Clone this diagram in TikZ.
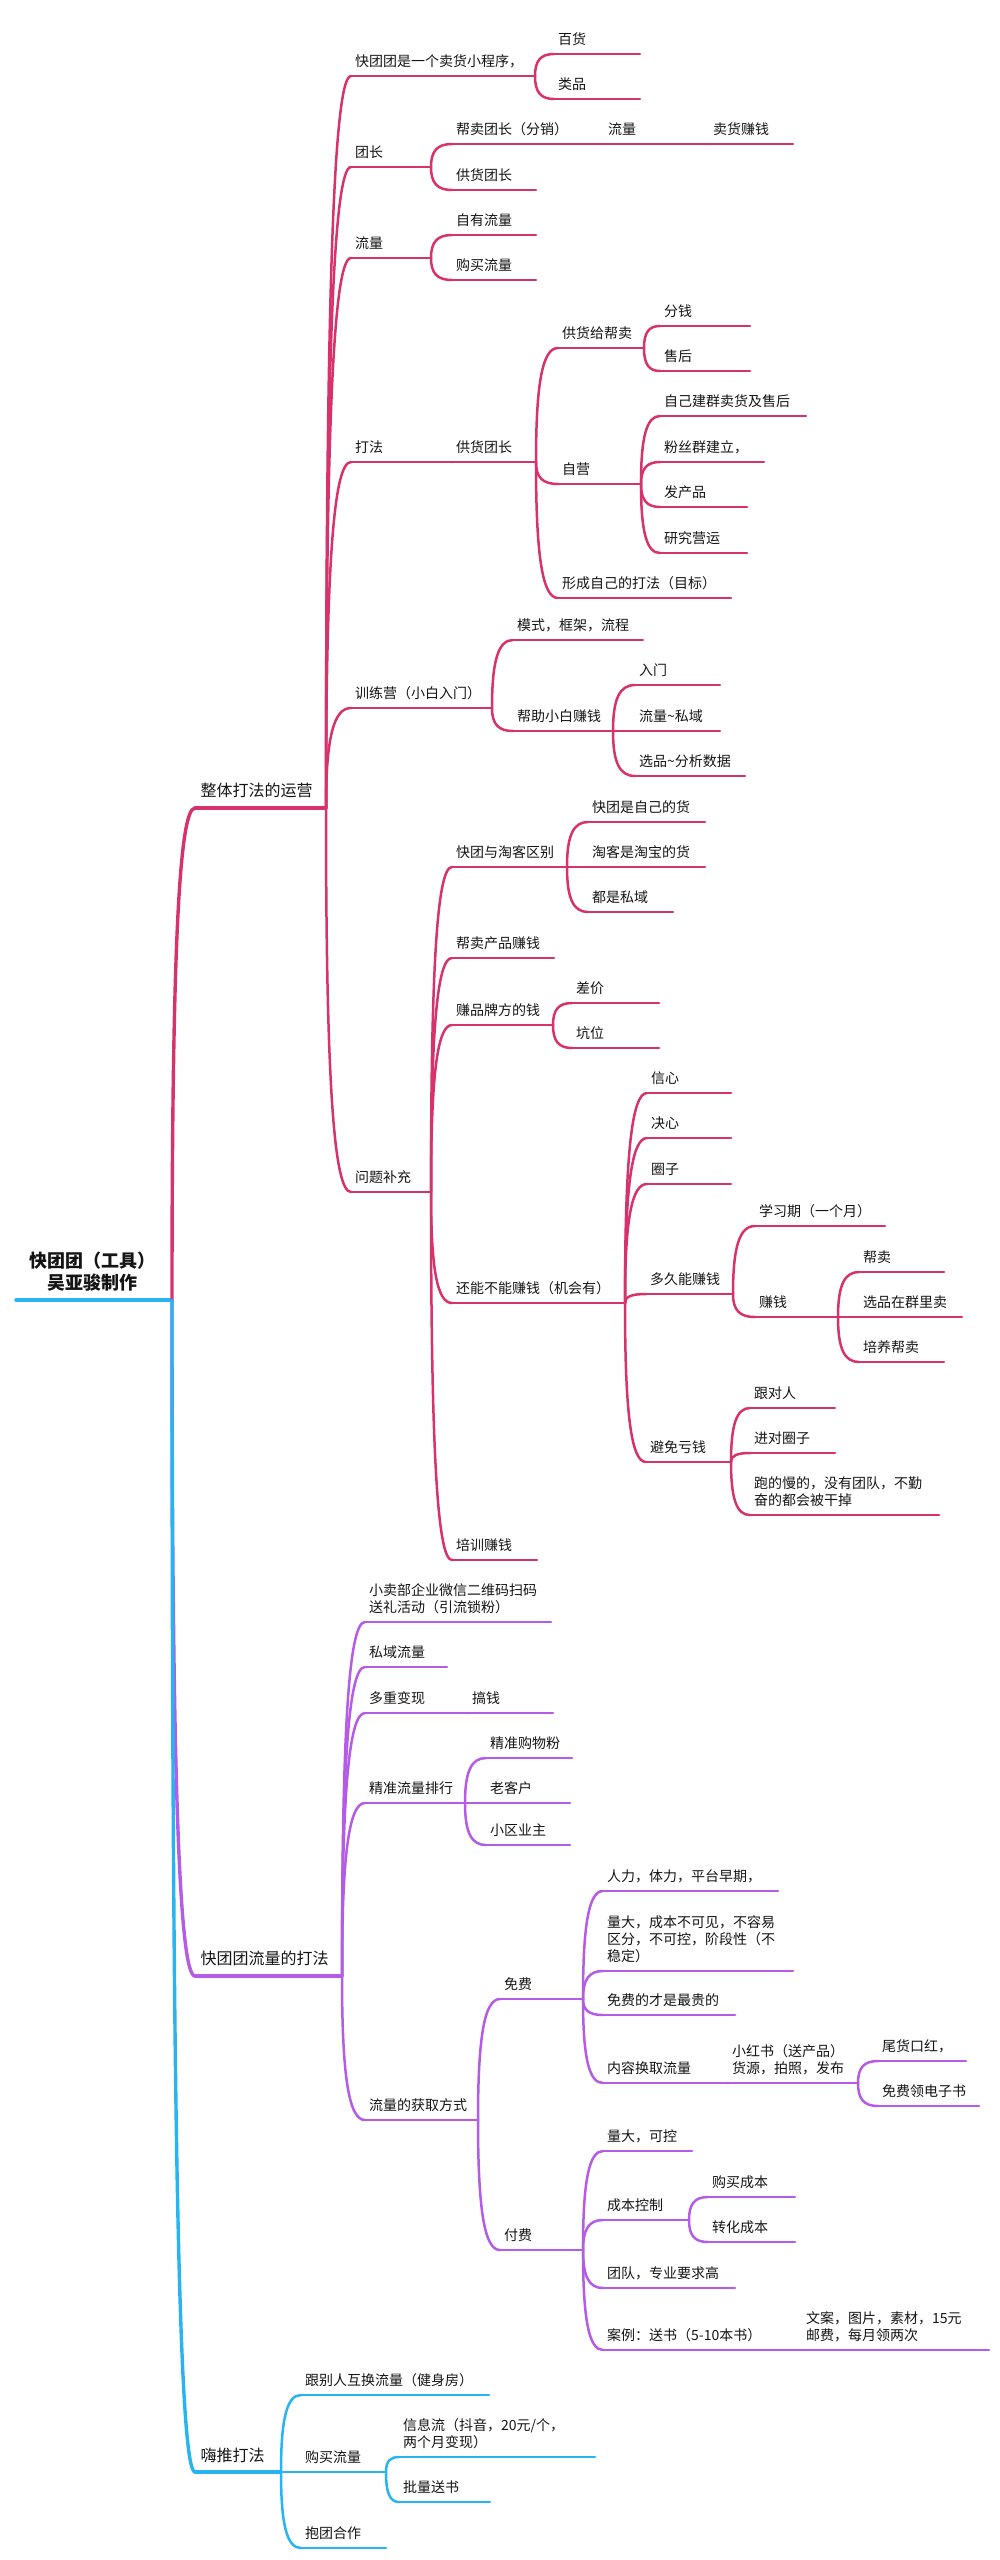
\documentclass[tikz,border=0pt]{standalone}
\usepackage{fontspec}
\setmainfont{Noto Sans CJK SC}
\usetikzlibrary{calc}
\definecolor{cr}{RGB}{214,51,108}
\definecolor{pu}{RGB}{180,92,230}
\definecolor{bl}{RGB}{40,180,240}
\definecolor{tx}{RGB}{20,20,20}
\tikzset{
  txt/.style={anchor=south west,inner sep=0pt,text=tx,font=\fontsize{14}{17}\selectfont,align=left},
  big/.style={font=\fontsize{16}{19}\selectfont},
  ln/.style={line width=2.5pt,line cap=round},
  lnb/.style={line width=3.4pt,line cap=round}
}
% #1 extra style #2 name #3 xs #4 xe #5 y #6 color #7 text
\newcommand\nd[7][]{%
  \coordinate (#2-s) at (#3,#5);
  \coordinate (#2-e) at (#4,#5);
  \draw[#6,ln,#1] (#2-s)--(#2-e);
  \node[txt,#1] (#2) at (#3+4,#5-8) {#7};
}
\newcommand\ed[4][]{%
  \coordinate (tmp) at (#3-e|-#4-s);
  \draw[#2,ln,#1] (#3-e) .. controls ($(#3-e)!0.7!(tmp)$) and ($(#4-s)!0.7!(tmp)$) .. (#4-s);
}
\begin{document}
\begin{tikzpicture}[x=1pt,y=-1pt]
\useasboundingbox (0,0) rectangle (1000,2560);
% root
\coordinate (R-s) at (16,1300); \coordinate (R-e) at (172,1300);
\draw[bl,lnb] (R-s)--(R-e);
\node[inner sep=0pt,text=tx,font=\fontsize{18}{22}\selectfont\bfseries,align=center] (R) at (92,1272) {快团团（工具）\\吴亚骏制作};
% ===== crimson
\nd[big,lnb]{A}{195}{326}{808}{cr}{整体打法的运营}
\ed[lnb]{cr}{R}{A}
\nd{a1}{351}{535}{76}{cr}{快团团是一个卖货小程序，}
\nd{a11}{554}{640}{54}{cr}{百货}
\nd{a12}{554}{640}{99}{cr}{类品}
\nd{a2}{351}{431}{167}{cr}{团长}
\nd{a21}{452}{604}{144}{cr}{帮卖团长（分销）}
\nd{a211}{604}{709}{144}{cr}{流量}
\nd{a212}{709}{793}{144}{cr}{卖货赚钱}
\nd{a22}{452}{536}{190}{cr}{供货团长}
\nd{a3}{351}{431}{258}{cr}{流量}
\nd{a31}{452}{536}{235}{cr}{自有流量}
\nd{a32}{452}{536}{280}{cr}{购买流量}
\nd{a4}{351}{452}{462}{cr}{打法}
\nd{a41}{452}{536}{462}{cr}{供货团长}
\nd{a411}{558}{644}{348}{cr}{供货给帮卖}
\nd{a4111}{660}{750}{326}{cr}{分钱}
\nd{a4112}{660}{750}{371}{cr}{售后}
\nd{a412}{558}{641}{484}{cr}{自营}
\nd{a4121}{660}{806}{416}{cr}{自己建群卖货及售后}
\nd{a4122}{660}{764}{462}{cr}{粉丝群建立，}
\nd{a4123}{660}{747}{507}{cr}{发产品}
\nd{a4124}{660}{747}{553}{cr}{研究营运}
\nd{a413}{558}{731}{598}{cr}{形成自己的打法（目标）}
\nd{a5}{351}{492}{708}{cr}{训练营（小白入门）}
\nd{a51}{513}{643}{640}{cr}{模式，框架，流程}
\nd{a52}{513}{613}{731}{cr}{帮助小白赚钱}
\nd{a521}{635}{720}{685}{cr}{入门}
\nd{a522}{635}{720}{731}{cr}{流量\textasciitilde 私域}
\nd{a523}{635}{745}{776}{cr}{选品\textasciitilde 分析数据}
\nd{a6}{351}{431}{1192}{cr}{问题补充}
\nd{a61}{452}{567}{867}{cr}{快团与淘客区别}
\nd{a611}{588}{705}{822}{cr}{快团是自己的货}
\nd{a612}{588}{705}{867}{cr}{淘客是淘宝的货}
\nd{a613}{588}{673}{912}{cr}{都是私域}
\nd{a62}{452}{554}{958}{cr}{帮卖产品赚钱}
\nd{a63}{452}{553}{1025}{cr}{赚品牌方的钱}
\nd{a631}{572}{659}{1003}{cr}{差价}
\nd{a632}{572}{659}{1048}{cr}{坑位}
\nd{a64}{452}{625}{1303}{cr}{还能不能赚钱（机会有）}
\nd{a641}{647}{731}{1093}{cr}{信心}
\nd{a642}{647}{731}{1138}{cr}{决心}
\nd{a643}{647}{731}{1184}{cr}{圈子}
\nd{a644}{646}{733}{1294}{cr}{多久能赚钱}
\nd{a6441}{755}{885}{1226}{cr}{学习期（一个月）}
\nd{a6442}{755}{838}{1317}{cr}{赚钱}
\nd{a64421}{859}{944}{1272}{cr}{帮卖}
\nd{a64422}{859}{962}{1317}{cr}{选品在群里卖}
\nd{a64423}{859}{944}{1362}{cr}{培养帮卖}
\nd{a645}{646}{731}{1462}{cr}{避免亏钱}
\nd{a6451}{750}{835}{1408}{cr}{跟对人}
\nd{a6452}{750}{835}{1453}{cr}{进对圈子}
\nd{a6453}{750}{939}{1515}{cr}{跑的慢的，没有团队，不勤\\奋的都会被干掉}
\nd{a65}{452}{537}{1560}{cr}{培训赚钱}
\foreach \p/\c in {A/a1,A/a2,A/a3,A/a4,A/a5,A/a6,a1/a11,a1/a12,a2/a21,a21/a211,a211/a212,a2/a22,a3/a31,a3/a32,a4/a41,a41/a411,a41/a412,a41/a413,a411/a4111,a411/a4112,a412/a4121,a412/a4122,a412/a4123,a412/a4124,a5/a51,a5/a52,a52/a521,a52/a522,a52/a523,a6/a61,a6/a62,a6/a63,a6/a64,a6/a65,a61/a611,a61/a612,a61/a613,a63/a631,a63/a632,a64/a641,a64/a642,a64/a643,a64/a644,a64/a645,a644/a6441,a644/a6442,a6442/a64421,a6442/a64422,a6442/a64423,a645/a6451,a645/a6452,a645/a6453}{\ed{cr}{\p}{\c}}
% ===== purple
\nd[big,lnb]{B}{195}{342}{1976}{pu}{快团团流量的打法}
\ed[lnb]{pu}{R}{B}
\nd{b1}{365}{551}{1622}{pu}{小卖部企业微信二维码扫码\\送礼活动（引流锁粉）}
\nd{b2}{365}{447}{1667}{pu}{私域流量}
\nd{b3}{365}{468}{1713}{pu}{多重变现}
\nd{b31}{468}{553}{1713}{pu}{搞钱}
\nd{b4}{365}{465}{1803}{pu}{精准流量排行}
\nd{b41}{486}{572}{1758}{pu}{精准购物粉}
\nd{b42}{486}{570}{1803}{pu}{老客户}
\nd{b43}{486}{570}{1845}{pu}{小区业主}
\nd{b5}{365}{478}{2120}{pu}{流量的获取方式}
\nd{b51}{500}{583}{1999}{pu}{免费}
\nd{b511}{603}{778}{1891}{pu}{人力，体力，平台早期，}
\nd{b512}{603}{793}{1971}{pu}{量大，成本不可见，不容易\\区分，不可控，阶段性（不\\稳定）}
\nd{b513}{603}{735}{2015}{pu}{免费的才是最贵的}
\nd{b514}{603}{728}{2083}{pu}{内容换取流量}
\nd{b5141}{728}{858}{2083}{pu}{小红书（送产品）\\货源，拍照，发布}
\nd{b51411}{878}{966}{2061}{pu}{尾货口红，}
\nd{b51412}{878}{979}{2106}{pu}{免费领电子书}
\nd{b52}{500}{583}{2250}{pu}{付费}
\nd{b521}{603}{692}{2151}{pu}{量大，可控}
\nd{b522}{603}{689}{2220}{pu}{成本控制}
\nd{b5221}{708}{795}{2197}{pu}{购买成本}
\nd{b5222}{708}{795}{2242}{pu}{转化成本}
\nd{b523}{603}{735}{2288}{pu}{团队，专业要求高}
\nd{b524}{603}{802}{2350}{pu}{案例：送书（5-10本书）}
\nd{b5241}{802}{989}{2350}{pu}{文案，图片，素材，15元\\邮费，每月领两次}
\foreach \p/\c in {B/b1,B/b2,B/b3,b3/b31,B/b4,b4/b41,b4/b42,b4/b43,B/b5,b5/b51,b5/b52,b51/b511,b51/b512,b51/b513,b51/b514,b514/b5141,b5141/b51411,b5141/b51412,b52/b521,b52/b522,b52/b523,b52/b524,b522/b5221,b522/b5222,b524/b5241}{\ed{pu}{\p}{\c}}
% ===== blue
\nd[big,lnb]{C}{195}{281}{2472}{bl}{嗨推打法}
\ed[lnb]{bl}{R}{C}
\nd{c1}{301}{489}{2395}{bl}{跟别人互换流量（健身房）}
\nd{c2}{301}{386}{2472}{bl}{购买流量}
\nd{c21}{399}{595}{2457}{bl}{信息流（抖音，20元/个，\\两个月变现）}
\nd{c22}{399}{490}{2502}{bl}{批量送书}
\nd{c3}{301}{386}{2548}{bl}{抱团合作}
\foreach \p/\c in {C/c1,C/c2,C/c3,c2/c21,c2/c22}{\ed{bl}{\p}{\c}}
\end{tikzpicture}
\end{document}
